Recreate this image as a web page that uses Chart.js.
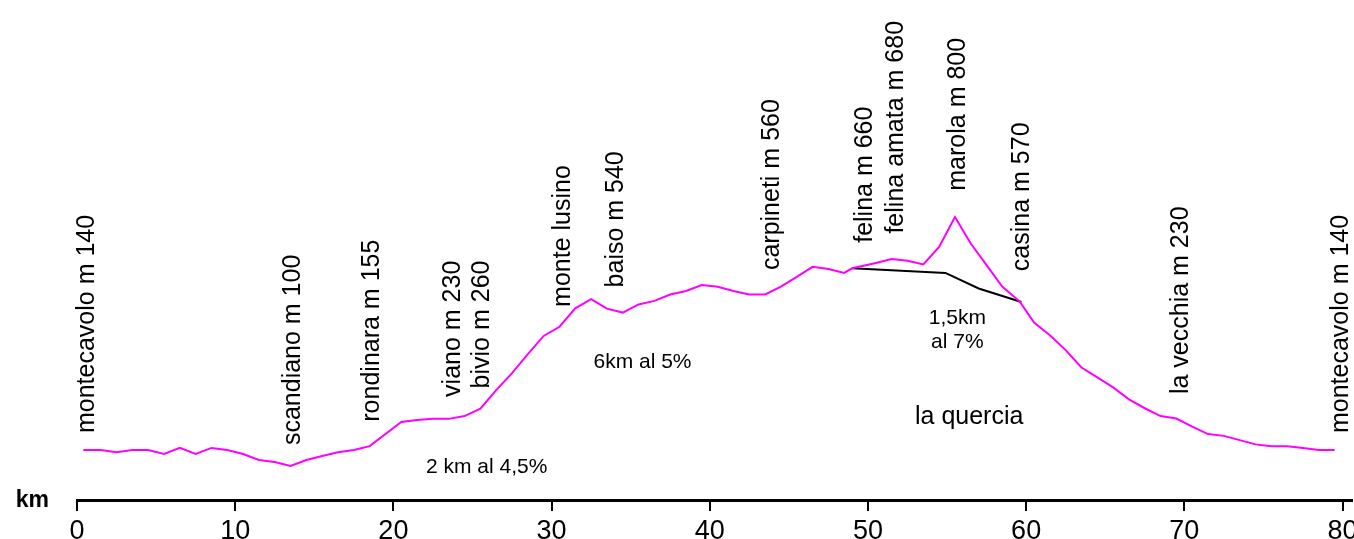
<!DOCTYPE html>
<html>
<head>
<meta charset="utf-8">
<script src="https://cdn.jsdelivr.net/npm/chart.js@4.4.1/dist/chart.umd.min.js"></script>
<style>
  html, body { margin: 0; padding: 0; background: #fff; }
  #wrap { width: 1354px; height: 539px; }
</style>
</head>
<body>
<div id="wrap"><canvas id="profilo" width="1354" height="539"></canvas></div>
<script>
// profilo altimetrico del giro: km progressivi e quota in metri
const kmPunti = [0.4, 1.5, 2.5, 3.5, 4.5, 5.5, 6.5, 7.5, 8.5, 9.5,
  10.5, 11.5, 12.5, 13.5, 14.5, 15.5, 16.5, 17.5, 18.5, 20.5,
  21.5, 22.5, 23.5, 24.5, 25.5, 26.5, 27.5, 28.5, 29.5, 30.5,
  31.5, 32.5, 33.5, 34.5, 35.5, 36.5, 37.5, 38.5, 39.5, 40.5,
  41.5, 42.5, 43.5, 44.5, 45.5, 46.5, 47.5, 48.5, 49.0, 50.5,
  51.5, 52.5, 53.5, 54.5, 55.5, 56.5, 57.5, 58.5, 59.6, 60.5,
  61.5, 62.5, 63.5, 64.5, 65.5, 66.5, 67.5, 68.5, 69.5, 70.5,
  71.5, 72.5, 73.5, 74.5, 75.5, 76.5, 77.5, 78.5, 79.5];
const quote = [141, 141, 135, 141, 141, 130, 147, 130, 147, 141,
  130, 113, 107, 96, 113, 124, 135, 141, 152, 220,
  226, 229, 229, 237, 258, 310, 358, 412, 463, 489,
  541, 567, 540, 529, 552, 562, 580, 590, 607, 602,
  590, 580, 580, 602, 630, 658, 652, 641, 654, 669,
  680, 675, 665, 714, 799, 724, 663, 602, 560, 501,
  465, 423, 374, 346, 318, 284, 259, 237, 230, 207,
  186, 181, 169, 157, 152, 152, 147, 141, 141];

// variante per la quercia
const kmVariante = [49.0, 54.9, 57.0, 59.7];
const quoteVariante = [654, 641, 597, 559];

const kmTicks = [0, 10, 20, 30, 40, 50, 60, 70, 80];

// localita' scritte in verticale
const localita = ["montecavolo m 140", "scandiano m 100", "rondinara m 155", "viano m 230",
  "bivio m 260", "monte lusino", "baiso m 540", "carpineti m 560", "felina m 660",
  "felina amata m 680", "marola m 800", "casina m 570", "la vecchia m 230", "montecavolo m 140"];
const kmLocalita = [0.65, 13.65, 18.65, 23.8, 25.6, 30.75, 34.1, 43.95, 49.8, 51.75, 55.7, 59.75, 69.8, 79.9];
const baseLocalita = [189, 155, 221, 291, 315, 545, 600, 649, 726, 752, 873, 646, 299, 189];

// note sulle pendenze
const note = ["2 km al 4,5%", "6km al 5%", "1,5km", "al 7%"];
const kmNote = [25.9, 35.75, 55.65, 55.65];
const quotaNote = [93, 389, 513, 446];
const notaVariante = "la quercia";
const kmNotaVariante = 56.4;
const quotaNotaVariante = 234;

const FONT = '"Liberation Sans", Arial, sans-serif';

const scritte = {
  id: 'scritte',
  afterDatasetsDraw(chart) {
    const { ctx, scales: { x, y }, chartArea } = chart;
    ctx.save();
    ctx.fillStyle = '#000';

    ctx.font = '25px ' + FONT;
    ctx.textAlign = 'left';
    ctx.textBaseline = 'middle';
    localita.forEach((nome, i) => {
      ctx.save();
      ctx.translate(x.getPixelForValue(kmLocalita[i]), y.getPixelForValue(baseLocalita[i]));
      ctx.rotate(-Math.PI / 2);
      ctx.fillText(nome, 0, 0);
      ctx.restore();
    });

    ctx.textAlign = 'center';
    ctx.font = '21px ' + FONT;
    note.forEach((t, i) => {
      ctx.fillText(t, x.getPixelForValue(kmNote[i]), y.getPixelForValue(quotaNote[i]));
    });
    ctx.font = '25px ' + FONT;
    ctx.fillText(notaVariante, x.getPixelForValue(kmNotaVariante), y.getPixelForValue(quotaNotaVariante));

    // unita' dell'asse
    ctx.font = 'bold 23px ' + FONT;
    ctx.textAlign = 'right';
    ctx.fillText('km', chartArea.left - 28, chartArea.bottom + 1);
    ctx.restore();
  }
};

new Chart(document.getElementById('profilo'), {
  type: 'scatter',
  data: {
    datasets: [
      {
        data: kmPunti.map((k, i) => ({ x: k, y: quote[i] })),
        showLine: true,
        borderColor: '#ff00ff',
        borderWidth: 2,
        pointRadius: 0,
        tension: 0
      },
      {
        data: kmVariante.map((k, i) => ({ x: k, y: quoteVariante[i] })),
        showLine: true,
        borderColor: '#000',
        borderWidth: 2,
        pointRadius: 0,
        tension: 0
      }
    ]
  },
  options: {
    responsive: false,
    animation: false,
    devicePixelRatio: 1,
    layout: { padding: { left: 77, right: 2, top: 4, bottom: 0 } },
    plugins: { legend: { display: false }, tooltip: { enabled: false } },
    scales: {
      x: {
        type: 'linear',
        min: 0,
        max: 80.6,
        afterBuildTicks: (scale) => { scale.ticks = kmTicks.map(v => ({ value: v })); },
        afterFit: (scale) => { scale.height = 39; scale.paddingLeft = 0; scale.paddingRight = 0; },
        ticks: {
          color: '#000',
          font: { family: FONT, size: 27 },
          padding: 4,
          maxRotation: 0,
          autoSkip: false
        },
        grid: {
          drawOnChartArea: false,
          drawTicks: true,
          tickLength: 11,
          color: '#000',
          lineWidth: 2
        },
        border: { display: true, color: '#000', width: 3 }
      },
      y: {
        display: false,
        min: 0,
        max: 1400
      }
    }
  },
  plugins: [scritte]
});
</script>
</body>
</html>
